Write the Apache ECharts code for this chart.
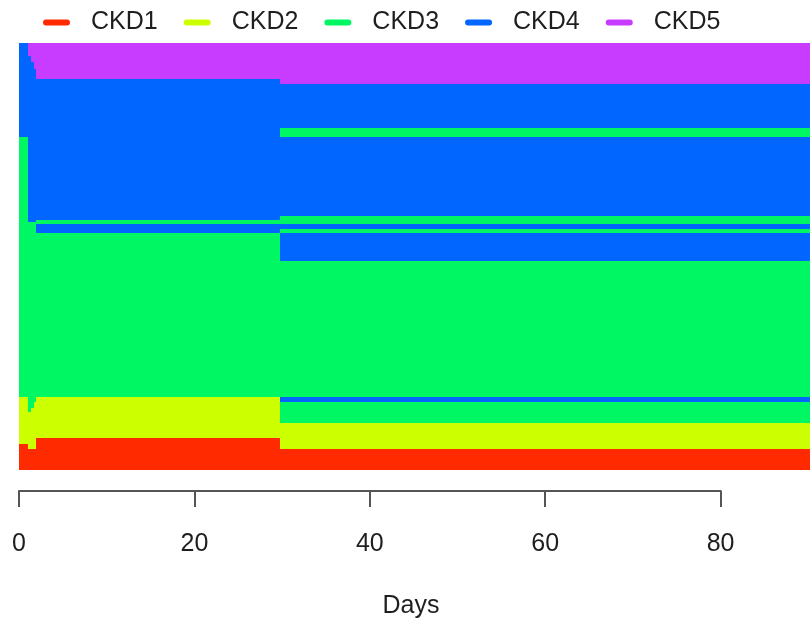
<!DOCTYPE html>
<html>
<head>
<meta charset="utf-8">
<script src="https://cdn.jsdelivr.net/npm/echarts@6/dist/echarts.min.js"></script>
<style>
  html, body { margin: 0; padding: 0; background: #ffffff; }
  #chart { width: 810px; height: 625px; }
</style>
</head>
<body>
<div id="chart"></div>
<script>
// CKD stage of every patient, day by day (sequence index plot)
const stateNames = ['CKD1', 'CKD2', 'CKD3', 'CKD4', 'CKD5'];
const stateColors = ['#FF2A00', '#CCFF00', '#00F764', '#0066FF', '#C83CFF'];

// observation periods (days)
const periodStart = [0, 1, 1.33, 1.67, 2, 30];
const periodEnd   = [1, 1.33, 1.67, 2, 30, 91];

// patients sharing the same trajectory, top to bottom
const groupRows = [6, 3, 3, 5, 2, 21, 4,
                   37, 2, 1, 1, 2, 2, 13, 64,
                   2, 3, 2, 5, 7, 3, 2, 10];

// stage (1..5) in each period for each group
const groupStates = [
  [4, 5, 5, 5, 5, 5],
  [4, 4, 5, 5, 5, 5],
  [4, 4, 4, 5, 5, 5],
  [4, 4, 4, 4, 5, 5],
  [4, 4, 4, 4, 4, 5],
  [4, 4, 4, 4, 4, 4],
  [4, 4, 4, 4, 4, 3],
  [3, 4, 4, 4, 4, 4],
  [3, 4, 4, 4, 4, 3],
  [3, 4, 4, 4, 3, 3],
  [3, 3, 3, 3, 3, 3],
  [3, 3, 3, 3, 4, 4],
  [3, 3, 3, 3, 4, 3],
  [3, 3, 3, 3, 3, 4],
  [3, 3, 3, 3, 3, 3],
  [2, 3, 3, 3, 2, 4],
  [2, 3, 3, 2, 2, 3],
  [2, 3, 2, 2, 2, 3],
  [2, 2, 2, 2, 2, 3],
  [2, 2, 2, 2, 2, 2],
  [2, 2, 2, 2, 1, 2],
  [1, 2, 2, 2, 1, 2],
  [1, 1, 1, 1, 1, 1]
];

const dayTicks = [0, 20, 40, 60, 80];

// turn each group's periods into spells [start, end, firstRow, lastRow]
const spells = stateNames.map(() => []);
let rowCursor = 0;
groupRows.forEach((n, g) => {
  const seq = groupStates[g];
  let p = 0;
  while (p < seq.length) {
    let q = p;
    while (q + 1 < seq.length && seq[q + 1] === seq[p]) q++;
    spells[seq[p] - 1].push([periodStart[p], periodEnd[q], rowCursor, rowCursor + n]);
    p = q + 1;
  }
  rowCursor += n;
});
const totalRows = rowCursor;

function renderSpell(params, api) {
  const a = api.coord([api.value(0), api.value(2)]);
  const b = api.coord([api.value(1), api.value(3)]);
  const x0 = Math.round(a[0]), x1 = Math.round(b[0]);
  const y0 = Math.round(a[1]), y1 = Math.round(b[1]);
  return {
    type: 'rect',
    shape: { x: x0, y: y0, width: x1 - x0, height: y1 - y0 },
    style: { fill: api.visual('color') }
  };
}

const FONT = "'Liberation Sans', Arial, sans-serif";
const TEXT = '#1e1e1e';
const AXIS = '#555555';

const chart = echarts.init(document.getElementById('chart'), null, { renderer: 'canvas' });

chart.setOption({
  animation: false,
  backgroundColor: '#ffffff',
  textStyle: { fontFamily: FONT },
  legend: {
    left: 38,
    top: 5,
    itemWidth: 27,
    itemHeight: 6,
    itemGap: 26,
    icon: 'path://M3,0 H24 A3,3 0 0 1 24,6 H3 A3,3 0 0 1 3,0 Z',
    textStyle: { fontFamily: FONT, fontSize: 25, color: TEXT, padding: [0, 0, 0, 16] },
    data: stateNames,
    selectedMode: false
  },
  grid: [
    { left: 19, right: -7, top: 43, bottom: 155 },
    { left: 19, right: 89.4, top: 470, bottom: 134 }
  ],
  xAxis: [
    {
      gridIndex: 0, type: 'value', min: 0, max: periodEnd[periodEnd.length - 1],
      axisLine: { show: false }, axisTick: { show: false },
      axisLabel: { show: false }, splitLine: { show: false },
      name: 'Days', nameLocation: 'middle', nameGap: 136,
      nameTextStyle: { fontFamily: FONT, fontSize: 25, color: TEXT, verticalAlign: 'middle', padding: [0, 7, 0, 0] }
    },
    {
      gridIndex: 1, type: 'value', min: dayTicks[0], max: dayTicks[dayTicks.length - 1], interval: 20,
      position: 'bottom',
      axisLine: { show: true, lineStyle: { color: AXIS, width: 2 } },
      axisTick: { show: true, length: 16, lineStyle: { color: AXIS, width: 2 } },
      axisLabel: { fontFamily: FONT, fontSize: 25, color: TEXT, margin: 53, verticalAlign: 'middle' },
      splitLine: { show: false }
    }
  ],
  yAxis: [
    { gridIndex: 0, type: 'value', min: 0, max: totalRows, inverse: true, show: false },
    { gridIndex: 1, type: 'value', show: false }
  ],
  series: stateNames.map((name, i) => ({
    name: name,
    type: 'custom',
    coordinateSystem: 'cartesian2d',
    xAxisIndex: 0,
    yAxisIndex: 0,
    silent: true,
    itemStyle: { color: stateColors[i] },
    encode: { x: [0, 1], y: [2, 3] },
    renderItem: renderSpell,
    data: spells[i]
  }))
});
</script>
</body>
</html>
